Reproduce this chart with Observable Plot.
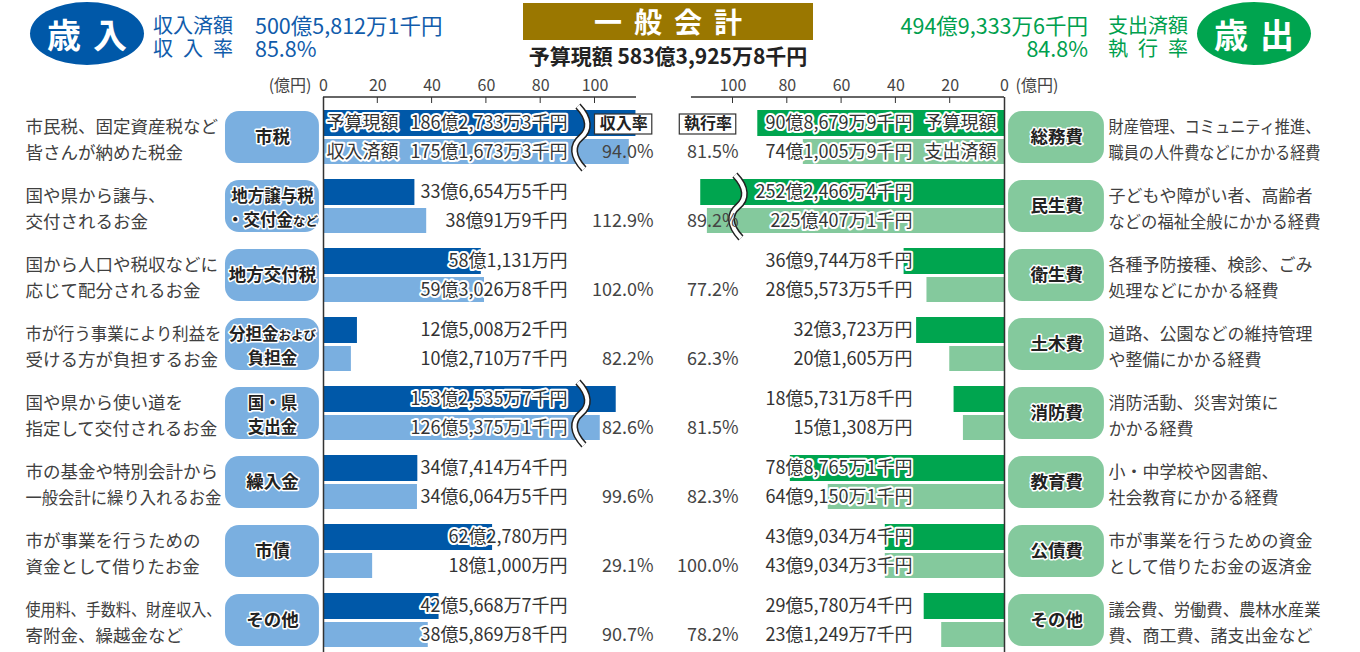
<!DOCTYPE html>
<html><head><meta charset="utf-8">
<script src="https://cdn.jsdelivr.net/npm/d3@7"></script>
<script src="https://cdn.jsdelivr.net/npm/@observablehq/plot@0.6"></script>
<style>
body{margin:0;background:#fff;font-family:"Noto Sans CJK JP","Noto Sans",sans-serif;overflow:hidden}
#wrap{position:relative;width:1360px;height:652px}
#head{position:relative;height:70px;width:1360px}
#head div{position:absolute;white-space:nowrap}
.ell{top:2px;width:114px;height:63px;border-radius:50%;color:#fff;font-weight:700;font-size:34px;display:flex;align-items:center;justify-content:center}
.ell span{display:inline-block;width:12px}
.lab{top:13px;font-size:20px;line-height:23px;width:80px;text-align:justify;text-align-last:justify}
.val{top:13px;font-size:21.5px;line-height:23px}
.blue{color:#115cab}.green{color:#00a04e}
#gold{left:523px;top:3px;width:290px;height:37px;background:#9a7700;color:#fff;font-weight:700;font-size:28px;line-height:37px;text-align:center;letter-spacing:12px;text-indent:12px}
#sub{left:523px;top:42px;width:290px;text-align:center;font-weight:700;font-size:21px;line-height:26px;color:#222}
</style></head>
<body><div id="wrap"><div id="head"></div><div id="chart"></div></div>
<script>
// ---------- data ----------
const revCats = ["市税", "地方譲与税\n・交付金など", "地方交付税", "分担金および\n負担金", "国・県\n支出金", "繰入金", "市債", "その他"];
const revDesc = ["市民税、固定資産税など\n皆さんが納めた税金", "国や県から譲与、\n交付されるお金", "国から人口や税収などに\n応じて配分されるお金", "市が行う事業により利益を\n受ける方が負担するお金", "国や県から使い道を\n指定して交付されるお金", "市の基金や特別会計から\n一般会計に繰り入れるお金", "市が事業を行うための\n資金として借りたお金", "使用料、手数料、財産収入、\n寄附金、繰越金など"];
const revBudget = [18627333, 3366545, 5811310, 1250082, 15325357, 3474144, 6227800, 4256687]; // 千円 予算現額
const revActual = [17516733, 3800919, 5930268, 1027107, 12653751, 3460645, 1810000, 3858698]; // 千円 収入済額
const revRate = [94.0, 112.9, 102.0, 82.2, 82.6, 99.6, 29.1, 90.7];
const expCats = ["総務費", "民生費", "衛生費", "土木費", "消防費", "教育費", "公債費", "その他"];
const expDesc = ["財産管理、コミュニティ推進、\n職員の人件費などにかかる経費", "子どもや障がい者、高齢者\nなどの福祉全般にかかる経費", "各種予防接種、検診、ごみ\n処理などにかかる経費", "道路、公園などの維持管理\nや整備にかかる経費", "消防活動、災害対策に\nかかる経費", "小・中学校や図書館、\n社会教育にかかる経費", "市が事業を行うための資金\nとして借りたお金の返済金", "議会費、労働費、農林水産業\n費、商工費、諸支出金など"];
const expBudget = [9086799, 25224664, 3697448, 3237230, 1857318, 7887651, 4390344, 2957804]; // 千円 予算現額
const expActual = [7410059, 22504071, 2855735, 2016050, 1513080, 6491501, 4390343, 2312497]; // 千円 支出済額
const expRate = [81.5, 89.2, 77.2, 62.3, 81.5, 82.3, 100.0, 78.2];
const axisTicks = [0, 20, 40, 60, 80, 100];
const totalBudget = 58339258, revTotal = 50058121, expTotal = 49493336; // 千円
const revTotalRate = 85.8, expTotalRate = 84.8;

// ---------- helpers ----------
const fmt = k => {
  const oku = Math.floor(k / 1e5), man = Math.floor((k % 1e5) / 10), sen = k % 10;
  return oku + "億" + (man ? man.toLocaleString("en-US") + "万" : "") + (sen ? sen + "千円" : "円");
};
const pct = r => r.toFixed(1) + "%";
const oku = k => k / 1e5;

// layout (pixels of the two zero lines, px per 億円)
const W = 1360, ZL = 323, ZR = 1004, PX = 2.715, OFF = 1000, SPLIT = 125, AXIS_MAX = 115.3;
const rev = v => v, exp = v => OFF - v;
const xDomain = [-ZL / PX, SPLIT, OFF - SPLIT, OFF + (W - ZR) / PX];
const xRange = [0, ZL + SPLIT * PX, ZR - SPLIT * PX, W];
// axis break (bars longer than the break are shortened)
const BRK_L = 95, BRK_R = 98, KL = 0.22, KR = 0.09;
const showL = v => v > BRK_L ? BRK_L + (v - BRK_L) * KL : v;
const showR = v => v > BRK_R ? BRK_R + (v - BRK_R) * KR : v;

const rows = revCats.map((c, i) => ({
  row: i, rc: c, rd: revDesc[i], rb: oku(revBudget[i]), ra: oku(revActual[i]),
  rbl: fmt(revBudget[i]), ral: fmt(revActual[i]), rr: pct(revRate[i]),
  ec: expCats[i], ed: expDesc[i], eb: oku(expBudget[i]), ea: oku(expActual[i]),
  ebl: fmt(expBudget[i]), eal: fmt(expActual[i]), er: pct(expRate[i])
}));
const rateHeads = [{label: "収入率", x1: rev(100), x2: rev(121.1)}, {label: "執行率", x1: exp(119.6), x2: exp(98.8)}];

// ---------- header ----------
const head = document.getElementById("head");
head.innerHTML = `
<div class="ell" style="left:30px;background:#0058a8">歳<span></span>入</div>
<div class="lab blue" style="left:153px">収入済額<br>収 入 率</div>
<div class="val blue" style="left:255px">${fmt(revTotal)}<br>${pct(revTotalRate)}</div>
<div id="gold">一般会計</div>
<div id="sub">予算現額 ${fmt(totalBudget)}</div>
<div class="val green" style="right:272px;text-align:right">${fmt(expTotal)}<br>${pct(expTotalRate)}</div>
<div class="lab green" style="left:1108px">支出済額<br>執 行 率</div>
<div class="ell" style="left:1197px;background:#00a44f">歳<span></span>出</div>`;

// ---------- colours ----------
const C = {rb: "#0058a8", ra: "#7aafe0", eb: "#00a54f", ea: "#84c99d", pillL: "#7aafe0", pillR: "#84c99d", txt: "#333", desc: "#404040", axis: "#333"};
const F = "'Noto Sans CJK JP', 'Noto Sans', sans-serif";

const decor = (index, scales, values, dims) => {
  const x = scales.x, y = scales.y;
  const bw = y.bandwidth ? y.bandwidth() : 54;
  const top = dims.marginTop;
  const g = d3.create("svg:g").attr("fill", "none");
  [[rev(0), rev(AXIS_MAX)], [exp(AXIS_MAX), exp(0)]].forEach(([a, b]) =>
    g.append("line").attr("x1", x(a)).attr("x2", x(b)).attr("y1", top).attr("y2", top).attr("stroke", C.axis).attr("stroke-width", 1.5));
  axisTicks.filter(t => t > 0).forEach(t => [rev(t), exp(t)].forEach(v =>
    g.append("line").attr("x1", x(v)).attr("x2", x(v)).attr("y1", top).attr("y2", top + 6).attr("stroke", C.axis)));
  rows.forEach(d => {
    [[d.rb, BRK_L, rev], [d.eb, BRK_R, exp]].forEach(([v, brk, f]) => {
      if (v <= brk) return;
      const cx = x(f(brk)), t = y(d.row) - 4, b = y(d.row) + bw + 5, h = b - t;
      const p = `M${cx - 3},${t} C${cx + 9},${t + h * 0.2} ${cx + 9},${t + h * 0.38} ${cx},${t + h / 2} S${cx - 9},${t + h * 0.8} ${cx + 3},${b}`;
      g.append("path").attr("d", p).attr("stroke", "#222").attr("stroke-width", 7);
      g.append("path").attr("d", p).attr("stroke", "#fff").attr("stroke-width", 4);
    });
  });
  return g.node();
};

const halo = {stroke: "white", strokeWidth: 4, paintOrder: "stroke", strokeLinejoin: "round"};
const valFont = {fontSize: 18, fill: C.txt, fontFamily: F};
const tickFont = {frameAnchor: "top", lineAnchor: "middle", dy: -12, fontSize: 16, fill: "#444", fontFamily: F};
const DY_B = -14, DY_A = 14.5;

const chart = Plot.plot({
  width: W, height: 582, marginTop: 27, marginBottom: 0, marginLeft: 0, marginRight: 0,
  x: {type: "linear", domain: xDomain, range: xRange, axis: null},
  y: {type: "band", domain: d3.range(8), paddingInner: 0.22, paddingOuter: 0.115, align: 0.69, axis: null},
  style: {fontFamily: F, fontSize: "17px", background: "transparent", overflow: "visible"},
  marks: [
    // category pills
    Plot.barX(rows, {y: "row", x1: () => rev(-36.1), x2: () => rev(-1.5), rx: 14, fill: C.pillL, insetTop: 1, insetBottom: 1}),
    Plot.barX(rows, {y: "row", x1: () => exp(-1.5), x2: () => exp(-36.8), rx: 14, fill: C.pillR, insetTop: 1, insetBottom: 1}),
    Plot.text(rows.filter(d => !d.rc.includes("\n")), {y: "row", x: () => rev(-18.8), text: "rc", fontWeight: 700, fontSize: 17.5, fill: "#222", fontFamily: F, ...halo, strokeWidth: 3}),
    Plot.text(rows.filter(d => d.rc.includes("\n")), {y: "row", x: () => rev(-18.8), text: "rc", fontWeight: 700, fontSize: 16.5, lineHeight: 1.45, fill: "#222", fontFamily: F, ...halo, strokeWidth: 3}),
    Plot.text(rows, {y: "row", x: () => exp(-19.2), text: "ec", fontWeight: 700, fontSize: 17.5, fill: "#222", fontFamily: F, ...halo, strokeWidth: 3}),
    // descriptions
    Plot.text(rows, {y: "row", x: () => rev(-109.8), text: "rd", textAnchor: "start", fontSize: 17.5, lineHeight: 1.52, fill: C.desc, fontFamily: F}),
    Plot.text(rows, {y: "row", x: () => exp(-38.3), text: "ed", textAnchor: "start", fontSize: 17, lineHeight: 1.56, fill: C.desc, fontFamily: F}),
    // bars
    Plot.barX(rows, {y: "row", x1: () => rev(0), x2: d => rev(showL(d.rb)), fill: C.rb, insetBottom: 28}),
    Plot.barX(rows, {y: "row", x1: () => rev(0), x2: d => rev(showL(d.ra)), fill: C.ra, insetTop: 29}),
    Plot.barX(rows, {y: "row", x1: () => exp(0), x2: d => exp(showR(d.eb)), fill: C.eb, insetBottom: 28}),
    Plot.barX(rows, {y: "row", x1: () => exp(0), x2: d => exp(showR(d.ea)), fill: C.ea, insetTop: 29}),
    // axes
    Plot.ruleX([rev(0), exp(0)], {stroke: C.axis, strokeWidth: 1.5}),
    decor,
    Plot.text(axisTicks, {x: d => rev(d), text: d => String(d), ...tickFont}),
    Plot.text(axisTicks, {x: d => exp(d), text: d => String(d), ...tickFont}),
    Plot.text(["(億円)"], {x: () => rev(0), dx: -12, textAnchor: "end", text: d => d, ...tickFont}),
    Plot.text(["(億円)"], {x: () => exp(0), dx: 11, textAnchor: "start", text: d => d, ...tickFont}),
    // value labels
    Plot.text(rows, {y: "row", x: () => rev(0), dx: 244, dy: DY_B, text: "rbl", textAnchor: "end", ...valFont, ...halo}),
    Plot.text(rows, {y: "row", x: () => rev(0), dx: 244, dy: DY_A, text: "ral", textAnchor: "end", ...valFont, ...halo}),
    Plot.text(rows, {y: "row", x: () => exp(0), dx: -92, dy: DY_B, text: "ebl", textAnchor: "end", ...valFont, ...halo}),
    Plot.text(rows, {y: "row", x: () => exp(0), dx: -92, dy: DY_A, text: "eal", textAnchor: "end", ...valFont, ...halo}),
    // series names in the first row
    Plot.text(["予算現額"], {y: () => 0, x: () => rev(0), dx: 3, dy: DY_B, text: d => d, textAnchor: "start", ...valFont, ...halo}),
    Plot.text(["収入済額"], {y: () => 0, x: () => rev(0), dx: 3, dy: DY_A, text: d => d, textAnchor: "start", ...valFont, ...halo}),
    Plot.text(["予算現額"], {y: () => 0, x: () => exp(0), dx: -8, dy: DY_B, text: d => d, textAnchor: "end", ...valFont, ...halo}),
    Plot.text(["支出済額"], {y: () => 0, x: () => exp(0), dx: -8, dy: DY_A, text: d => d, textAnchor: "end", ...valFont, ...halo}),
    // rates
    Plot.barX(rateHeads, {y: () => 0, x1: "x1", x2: "x2", fill: "white", stroke: "#333", strokeWidth: 1.2, insetTop: 4, insetBottom: 30}),
    Plot.text(rateHeads, {y: () => 0, x: d => (d.x1 + d.x2) / 2, dy: DY_B, text: "label", fontWeight: 700, fontSize: 16, fill: "#222", fontFamily: F}),
    Plot.text(rows, {y: "row", x: () => rev(0), dx: 330, dy: DY_A, text: "rr", textAnchor: "end", fontSize: 18, fill: "#444", fontFamily: F}),
    Plot.text(rows, {y: "row", x: () => exp(0), dx: -266, dy: DY_A, text: "er", textAnchor: "end", fontSize: 18, fill: "#444", fontFamily: F})
  ]
});
document.getElementById("chart").appendChild(chart);
// smaller kana inside two pill labels
d3.select(chart).selectAll("tspan").each(function() {
  const t = this.textContent;
  const small = t === "・交付金など" ? "など" : t === "分担金および" ? "および" : null;
  if (small) {
    this.textContent = t.slice(0, -small.length);
    d3.select(this).append("tspan").attr("font-size", 12.5).text(small);
  }
});
// long description lines are condensed to fit their column, as in the original
const leftLines = new Set(revDesc.flatMap(s => s.split("\n")));
const rightLines = new Set(expDesc.flatMap(s => s.split("\n")));
d3.select(chart).selectAll("tspan").each(function() {
  const t = this.textContent;
  const max = leftLines.has(t) ? 196 : rightLines.has(t) ? 212 : null;
  if (max && this.getComputedTextLength() > max) {
    this.setAttribute("textLength", max);
    this.setAttribute("lengthAdjust", "spacingAndGlyphs");
  }
});
d3.select(chart).selectAll("text").attr("paint-order", "stroke");
</script></body></html>
